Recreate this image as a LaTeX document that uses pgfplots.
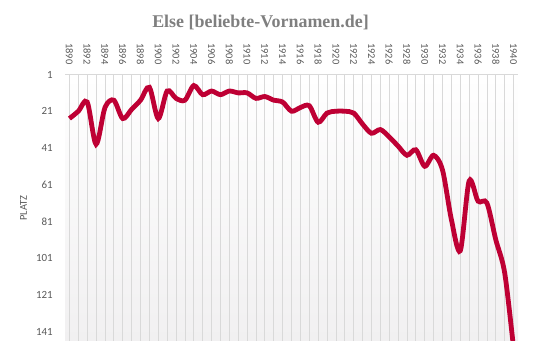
\documentclass[border=0pt]{standalone}
\usepackage{pgfplots}
\pgfplotsset{compat=1.18}
\usepackage{fontspec}
\setmainfont{Carlito}
\newfontfamily\titlefont{Liberation Serif}
\definecolor{linered}{RGB}{190,0,52}
\definecolor{gridgray}{RGB}{217,217,217}
\definecolor{labelgray}{RGB}{89,89,89}
\definecolor{titlegray}{RGB}{127,127,127}
\definecolor{bgbottom}{RGB}{241,240,241}
\begin{document}
\begin{tikzpicture}
\useasboundingbox (0,0) rectangle (533bp,355bp);
\begin{axis}[
  at={(65bp,14.3bp)}, anchor=south west,
  scale only axis, width=453bp, height=266.2bp,
  xmin=1889.5, xmax=1940.5, ymin=1, ymax=146,
  y dir=reverse,
  xtick={1890,1892,...,1940}, minor xtick={1891,1893,...,1939},
  xticklabel pos=upper,
  xticklabel style={rotate=-90, anchor=east, inner sep=0pt, font=\fontsize{10.5}{11}\selectfont, text=labelgray, /pgf/number format/1000 sep={}},
  xticklabel shift=10bp,
  ytick={1,21,...,141},
  yticklabel style={inner sep=0pt, font=\fontsize{11}{12}\selectfont, text=labelgray},
  yticklabel shift=12bp,
  major tick length=0pt, minor tick length=0pt,
  xmajorgrids, xminorgrids,
  grid style={gridgray, line width=0.75bp},
  minor grid style={gridgray, line width=0.75bp},
  axis line style={draw=none},
  axis background/.style={top color=white, bottom color=bgbottom},
  /pgf/number format/assume math mode=true,
]
\addplot[linered, line width=4.8bp, smooth, tension=0.5] table {
x y
1890 25
1891 21
1892 16
1893 39
1894 19
1895 15
1896 25
1897 20
1898 15
1899 8
1900 25
1901 10
1902 14
1903 15
1904 7
1905 12
1906 10
1907 12
1908 10
1909 11
1910 11
1911 14
1912 13
1913 15
1914 16
1915 21
1916 19
1917 18
1918 27
1919 22
1920 21
1921 21
1922 22
1923 28
1924 33
1925 31
1926 35
1927 40
1928 45
1929 42
1930 51
1931 45
1932 53
1933 80
1934 97
1935 59
1936 70
1937 71
1938 91
1939 109
1940 150
};
\end{axis}
\draw[gridgray, line width=0.75bp] (65bp,280.5bp) -- (518bp,280.5bp);
\node[font=\titlefont\bfseries\fontsize{18}{20}\selectfont, text=titlegray] at (260.5bp,332.5bp) {Else [beliebte-Vornamen.de]};
\node[rotate=90, font=\fontsize{10.5}{12}\selectfont, text=labelgray] at (23.5bp,147bp) {PLATZ};
\end{tikzpicture}
\end{document}
